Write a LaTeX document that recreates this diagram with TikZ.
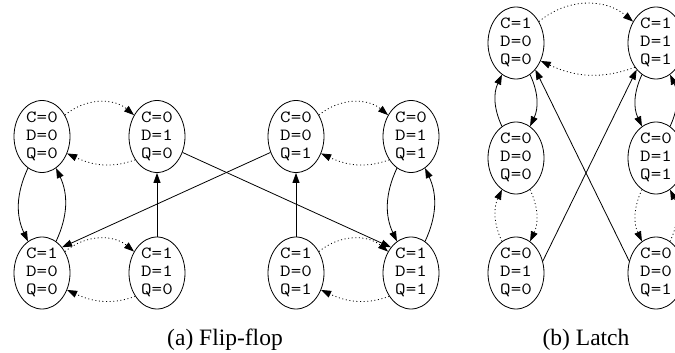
\documentclass[tikz,border=0pt]{standalone}
\usepackage{fontspec}
\setmainfont{Liberation Serif}
\usepackage{graphicx}
\usetikzlibrary{shapes.geometric,arrows.meta}
\newcommand{\stt}[3]{\scalebox{1.2}[1]{\begin{tabular}{@{}c@{}}C=#1\\D=#2\\Q=#3\end{tabular}}}
\begin{document}
\begin{tikzpicture}[x=1pt,y=1pt,
  state/.style={ellipse,draw,line width=0.8pt,minimum width=56pt,minimum height=72pt,
    inner xsep=0pt,inner ysep=-2.5pt,font=\fontsize{17}{18}\selectfont\ttfamily},
  arr/.style={line width=0.8pt,-{Triangle[length=10pt,width=7pt]}},
  dotarr/.style={arr,dash pattern=on 1pt off 2.6pt},
  captext/.style={font=\fontsize{23.5}{28}\selectfont,anchor=base,inner sep=0pt}]
\useasboundingbox (0,0) rectangle (675,-353);
\clip (0,0) rectangle (675,-353);
% flip-flop
\node[state] (A) at (42,-136.5) {\stt000};
\node[state] (B) at (157,-136.5) {\stt010};
\node[state] (C) at (296,-136.5) {\stt001};
\node[state] (D) at (411,-136.5) {\stt011};
\node[state] (E) at (42,-273) {\stt100};
\node[state] (F) at (157,-273) {\stt110};
\node[state] (G) at (296,-273) {\stt101};
\node[state] (H) at (411,-273) {\stt111};
\foreach \p/\q in {A/B,C/D,E/F,G/H}{
  \draw[dotarr] (\p.43) to[out=40,in=140] (\q.137);
  \draw[dotarr] (\q.-133) to[out=-160,in=-25] (\p.-34);
}
\foreach \p/\q in {A/E,D/H}{
  \draw[arr] (\p.-114) to[out=-115,in=115] (\q.114);
  \draw[arr] (\q.66) to[out=65,in=-65] (\p.-66);
}
\draw[arr] (F) -- (B);
\draw[arr] (G) -- (C);
\draw[arr] (B.-32) -- (H.128);
\draw[arr] (C.-148) -- (E.52);
% latch
\node[state] (L1) at (516,-43) {\stt100};
\node[state] (L2) at (656,-43) {\stt111};
\node[state] (L3) at (516,-158) {\stt000};
\node[state] (L4) at (656,-158) {\stt011};
\node[state] (L5) at (516,-273) {\stt010};
\node[state] (L6) at (656,-273) {\stt001};
\draw[dotarr] (L1.43) to[out=40,in=140] (L2.137);
\draw[dotarr] (L2.-131) to[out=-160,in=-25] (L1.-36);
\draw[arr] (L3.114) to[out=115,in=-115] (L1.-114);
\draw[arr] (L1.-66) to[out=-65,in=65] (L3.66);
\draw[dotarr] (L5.114) to[out=115,in=-115] (L3.-114);
\draw[dotarr] (L3.-66) to[out=-65,in=65] (L5.66);
\draw[arr] (L2.-114) to[out=-115,in=115] (L4.114);
\draw[arr] (L4.66) to[out=65,in=-65] (L2.-66);
\draw[dotarr] (L4.-114) to[out=-115,in=115] (L6.114);
\draw[dotarr] (L6.66) to[out=65,in=-65] (L4.-66);
\draw[arr] (L5.24) -- (L2.-126);
\draw[arr] (L6.156) -- (L1.-54);
% captions
\node[captext] (capa) at (225,-345) {(a) Flip-flop};
\node[captext] (capb) at (586,-345) {(b) Latch};
\end{tikzpicture}
\end{document}
